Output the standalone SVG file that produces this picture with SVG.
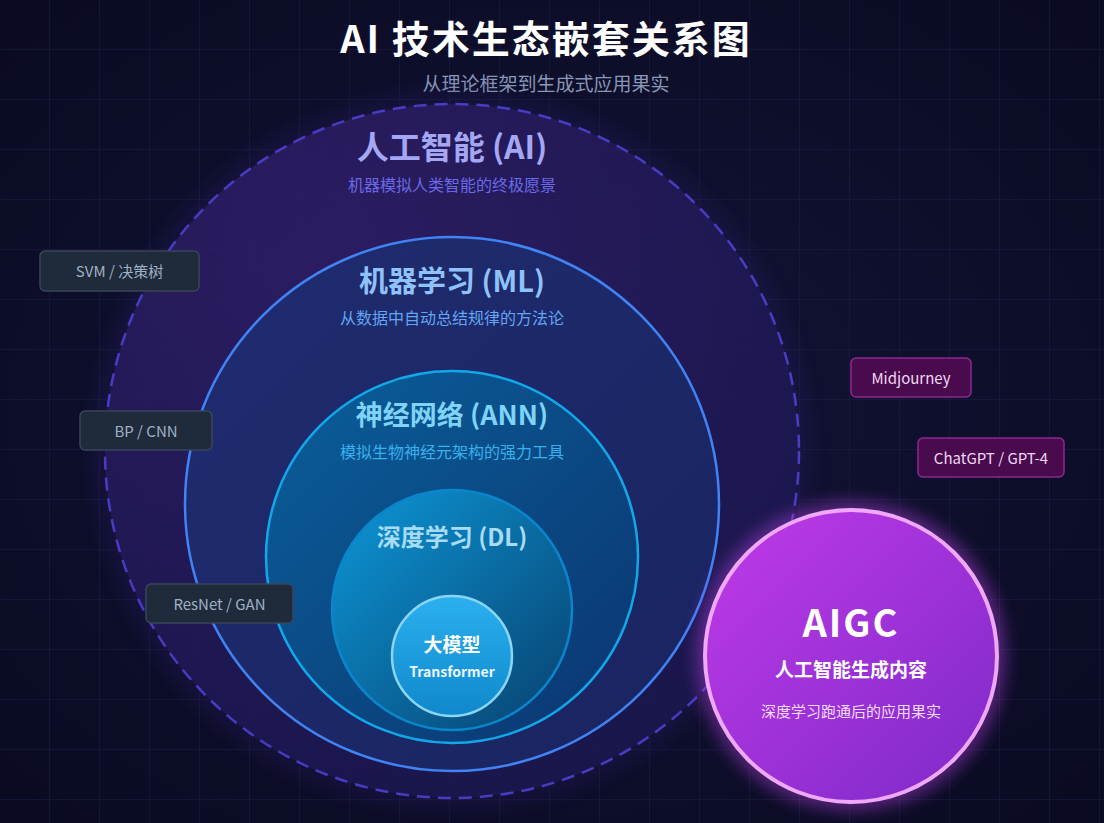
<svg xmlns="http://www.w3.org/2000/svg" width="1104" height="823" viewBox="0 0 1104 823">
<defs>
<pattern id="grid" width="50" height="50" patternUnits="userSpaceOnUse"><path d="M50 0V50H0" fill="none" stroke="#1c1f45" stroke-width="1"/></pattern>
<radialGradient id="bg" cx="0.5" cy="0.5" r="0.7"><stop offset="0" stop-color="#141538"/><stop offset="1" stop-color="#0a0a22"/></radialGradient>
<radialGradient id="gAI" cx="0.3" cy="0.2" r="0.9"><stop offset="0" stop-color="#33206e"/><stop offset="1" stop-color="#1a1850"/></radialGradient>
<linearGradient id="gML" x1="0" y1="0" x2="1" y2="1"><stop offset="0" stop-color="#1f2c70"/><stop offset="1" stop-color="#1a2460"/></linearGradient>
<linearGradient id="gANN" x1="0" y1="0" x2="1" y2="1"><stop offset="0" stop-color="#0a5f9a"/><stop offset="1" stop-color="#0b3570"/></linearGradient>
<linearGradient id="gDL" x1="0" y1="0" x2="1" y2="1"><stop offset="0" stop-color="#0c98d8"/><stop offset="1" stop-color="#08406e"/></linearGradient>
<linearGradient id="gLM" x1="0" y1="0" x2="0" y2="1"><stop offset="0" stop-color="#2bb0ef"/><stop offset="1" stop-color="#0f88cc"/></linearGradient>
<linearGradient id="gAIGC" x1="0" y1="0" x2="1" y2="1"><stop offset="0" stop-color="#c03ae8"/><stop offset="1" stop-color="#7d2ac8"/></linearGradient>
<filter id="glow" x="-30%" y="-30%" width="160%" height="160%"><feGaussianBlur stdDeviation="8"/></filter>
</defs>
<style>
.t{font-family:"Noto Sans CJK SC","Noto Sans",sans-serif;text-anchor:middle}
.b{font-weight:bold}
.tag rect{fill:#1f2a3a;stroke:#38465a;stroke-width:1.5}
.tag text{fill:#9fb0c4;font-size:15px}
.tagp rect{fill:#4a0a4e;stroke:#8a2a8e;stroke-width:1.5}
.tagp text{fill:#f0d8f4;font-size:15px}
</style>
<rect width="1104" height="823" fill="url(#bg)"/>
<rect width="1104" height="823" fill="url(#grid)"/>
<text class="t b" x="546" y="53" font-size="38" letter-spacing="2" fill="#ffffff" font-weight="900">AI 技术生态嵌套关系图</text>
<text class="t" x="546" y="91" font-size="19" fill="#8a97b8">从理论框架到生成式应用果实</text>
<g id="ai">
<circle cx="452" cy="451" r="360" fill="#2a1f6a" opacity="0.25" filter="url(#glow)"/>
<circle cx="452" cy="451" r="347" fill="url(#gAI)" opacity="0.75" stroke="#5a4af2" stroke-width="2.5" stroke-dasharray="13 8"/>
<text class="t b" x="452" y="159" font-size="32" fill="#a4a8f4">人工智能 (AI)</text>
<text class="t" x="452" y="191" font-size="16" fill="#6a6ae8">机器模拟人类智能的终极愿景</text>
</g>
<g id="ml">
<circle cx="452" cy="504" r="267" fill="url(#gML)" stroke="#3f83f4" stroke-width="2.5"/>
<text class="t b" x="452" y="292" font-size="29" fill="#8fc2fa">机器学习 (ML)</text>
<text class="t" x="452" y="324" font-size="16" fill="#62a6f2">从数据中自动总结规律的方法论</text>
</g>
<g id="ann">
<circle cx="452" cy="557" r="186" fill="url(#gANN)" stroke="#11a8ea" stroke-width="2.5"/>
<text class="t b" x="452" y="425" font-size="27" fill="#7fd2f8">神经网络 (ANN)</text>
<text class="t" x="452" y="458" font-size="16" fill="#37b0ec">模拟生物神经元架构的强力工具</text>
</g>
<g id="dl">
<circle cx="452" cy="610" r="120" fill="url(#gDL)" stroke="#0a86cc" stroke-width="2.5"/>
<text class="t b" x="452" y="546" font-size="24" fill="#a8dcf6">深度学习 (DL)</text>
</g>
<g id="llm">
<circle cx="452" cy="656" r="60" fill="url(#gLM)" stroke="#8ad4f4" stroke-width="2.5"/>
<text class="t b" x="452" y="652" font-size="19" fill="#ffffff">大模型</text>
<text class="t b" x="452" y="677" font-size="14" fill="#e8f6ff">Transformer</text>
</g>
<g id="aigc">
<circle cx="851" cy="656" r="155" fill="#b040e0" opacity="0.45" filter="url(#glow)"/>
<circle cx="851" cy="656" r="146" fill="url(#gAIGC)" stroke="#f0a8fa" stroke-width="4"/>
<text class="t b" x="851" y="637" font-size="38" letter-spacing="2" font-weight="900" fill="#ffffff">AIGC</text>
<text class="t b" x="851" y="677" font-size="19" fill="#ffffff">人工智能生成内容</text>
<text class="t" x="851" y="717" font-size="15" fill="#f2dcfa">深度学习跑通后的应用果实</text>
</g>
<g id="tag-svm" class="tag"><rect x="40" y="251" width="159" height="40" rx="5"/><text class="t" x="119.5" y="277">SVM / 决策树</text></g>
<g id="tag-bp" class="tag"><rect x="80" y="411" width="132" height="39" rx="5"/><text class="t" x="146" y="437">BP / CNN</text></g>
<g id="tag-resnet" class="tag"><rect x="146" y="584" width="147" height="39" rx="5"/><text class="t" x="219.5" y="610">ResNet / GAN</text></g>
<g id="tag-mj" class="tagp"><rect x="851" y="358" width="120" height="39" rx="5"/><text class="t" x="911" y="384">Midjourney</text></g>
<g id="tag-gpt" class="tagp"><rect x="918" y="438" width="146" height="39" rx="5"/><text class="t" x="991" y="464">ChatGPT / GPT-4</text></g>
<g id="connectors"></g>
</svg>
